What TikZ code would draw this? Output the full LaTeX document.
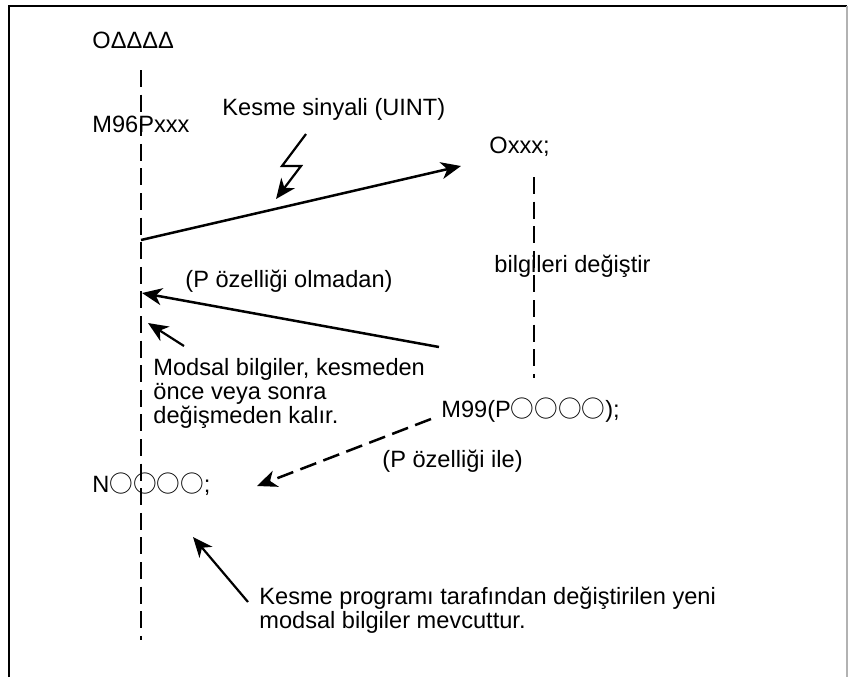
\documentclass[tikz,border=0pt]{standalone}
\usepackage{fontspec}
\setmainfont{Liberation Sans}
\newfontfamily\cjk{Noto Sans CJK JP}
\usetikzlibrary{arrows.meta}

\begin{document}
\begin{tikzpicture}[
        x=0.5pt, y=-0.5pt,
        lbl/.style={anchor=base west, inner sep=0pt, align=left,
            font=\fontsize{11.8}{12}\selectfont},
        flow/.style={line width=1.25pt,
            -{Stealth[length=10pt, width=8.5pt, inset=3pt]}},
        seqline/.style={line width=1.25pt, dash pattern=on 8.5pt off 3.8pt}
    ]
        \useasboundingbox (0,0) rectangle (848,677);
        % frame
        \draw[line width=1.2pt] (9,677) -- (9,6) -- (847,6);
        \draw[gray!60, line width=0.6pt] (847,6) -- (847,677);

        % main program
        \draw[seqline] (141,70) -- (141,640);
        \node[lbl] (progStart) at (92,48) {OΔΔΔΔ};
        \node[lbl] (callM96) at (92,132) {M96Pxxx};
        \node[lbl] (targetN) at (92,492) {N{\cjk ○○○○};};

        % interrupt program
        \draw[seqline] (534,177) -- (534,378);
        \node[lbl] (subStart) at (489,153) {Oxxx;};
        \node[lbl] (changeText) at (494,272) {bilgileri değiştir};
        \node[lbl] (returnM99) at (441,417) {M99(P{\cjk ○○○○});};

        % texts
        \node[lbl] (signalText) at (222,115) {Kesme sinyali (UINT)};
        \node[lbl] (noPText) at (185,287) {(P özelliği olmadan)};
        \node[lbl] (modalText) at (153,423)
            {Modsal bilgiler, kesmeden\\önce veya sonra\\değişmeden kalır.};
        \node[lbl] (withPText) at (382,467) {(P özelliği ile)};
        \node[lbl] (newModalText) at (259,628)
            {Kesme programı tarafından değiştirilen yeni\\modsal bilgiler mevcuttur.};

        % arrow ends
        \coordinate (intrFrom) at (141,240);
        \coordinate (intrTo) at (461,166);
        \coordinate (retFrom) at (439,347);
        \coordinate (retTo) at (142,293);
        \coordinate (jumpFrom) at (431,419);
        \coordinate (jumpTo) at (257,486);

        \draw[flow] (intrFrom) -- (intrTo);
        \draw[flow, line width=1.1pt]
            (306,134) -- (282,166) -- (301,166) -- (276,199);
        \draw[flow] (retFrom) -- (retTo);
        \draw[flow, dash pattern=on 8.5pt off 3.8pt] (jumpFrom) -- (jumpTo);
        \draw[flow, line width=1.1pt] (184,346) -- (148,323);
        \draw[flow, line width=1.1pt] (248,602) -- (193,537);
    \end{tikzpicture}
\end{document}
